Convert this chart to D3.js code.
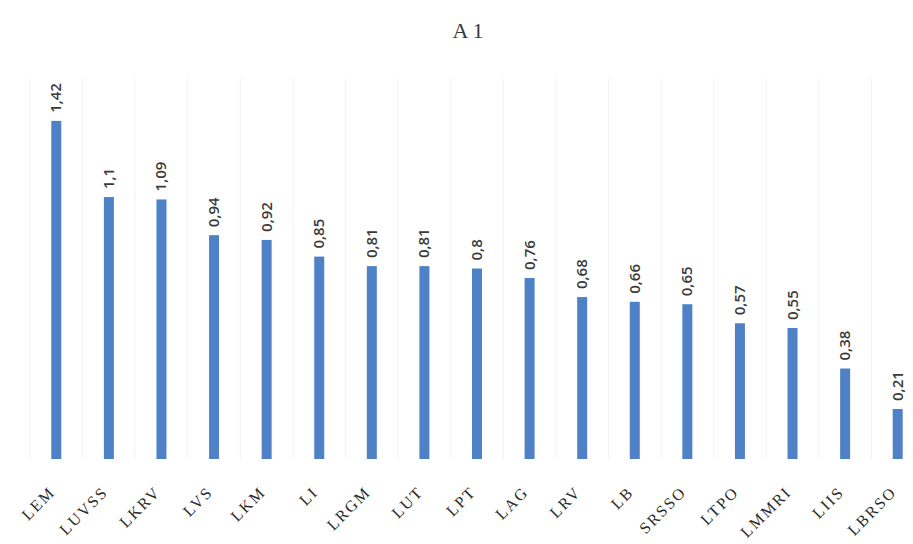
<!DOCTYPE html>
<html><head><meta charset="utf-8">
<script src="https://cdn.jsdelivr.net/npm/d3@7/dist/d3.min.js"></script>
<style>body{margin:0;background:#fff}svg{display:block}</style>
</head><body>
<script>
const categories = ["LEM","LUVSS","LKRV","LVS","LKM","LI","LRGM","LUT","LPT","LAG","LRV","LB","SRSSO","LTPO","LMMRI","LIIS","LBRSO"];
const values = [1.42,1.1,1.09,0.94,0.92,0.85,0.81,0.81,0.8,0.76,0.68,0.66,0.65,0.57,0.55,0.38,0.21];
const title = "A1";

const W = 913, H = 544;
const svg = d3.select("body").append("svg").attr("width", W).attr("height", H);

const x = d3.scaleBand().domain(categories).range([30, 924]).padding(0);
const y = d3.scaleLinear().domain([0, 1.6]).range([459, 78]);

// vertical gridlines at band edges
const edges = categories.map(c => x(c)).concat([x(categories[categories.length-1]) + x.bandwidth()]);
svg.append("g").selectAll("line").data(edges).join("line")
  .attr("x1", d => d).attr("x2", d => d).attr("y1", y.range()[1]).attr("y2", y(0))
  .attr("stroke", "#f3f3f3").attr("stroke-width", 1);

const bw = 10;
svg.append("g").selectAll("rect").data(values).join("rect")
  .attr("x", (d,i) => x(categories[i]) + x.bandwidth()/2 - bw/2)
  .attr("y", d => y(d))
  .attr("width", bw)
  .attr("height", d => y(0) - y(d))
  .attr("fill", "#4f81c7");

// value labels
svg.append("g").selectAll("text").data(values).join("text")
  .attr("transform", (d,i) => `translate(${x(categories[i]) + x.bandwidth()/2 + 5},${y(d) - 8}) rotate(-90)`)
  .attr("font-family", "Open Sans, Liberation Sans, sans-serif")
  .attr("font-size", 15)
  .attr("font-weight", 600)
  .attr("fill", "#3a3a3a")
  .text(d => String(d).replace(".", ","));

// category axis labels
const xAxis = d3.axisBottom(x).tickSize(0).tickPadding(0);
const gx = svg.append("g").attr("transform", `translate(0,${y(0)})`).call(xAxis);
gx.select(".domain").remove();
gx.selectAll("text")
  .attr("font-family", "Liberation Serif, DejaVu Serif, serif")
  .attr("font-size", 16)
  .attr("letter-spacing", 2)
  .attr("fill", "#2a2a2a")
  .attr("text-anchor", "end")
  .attr("dy", null)
  .attr("y", 0)
  .attr("transform", "translate(0,34) rotate(-45)");

svg.append("text")
  .attr("x", 470).attr("y", 38)
  .attr("text-anchor", "middle")
  .attr("font-family", "Liberation Serif, DejaVu Serif, serif")
  .attr("font-size", 22)
  .attr("letter-spacing", 4)
  .attr("fill", "#3a3a3a")
  .text(title);
</script>
</body></html>
